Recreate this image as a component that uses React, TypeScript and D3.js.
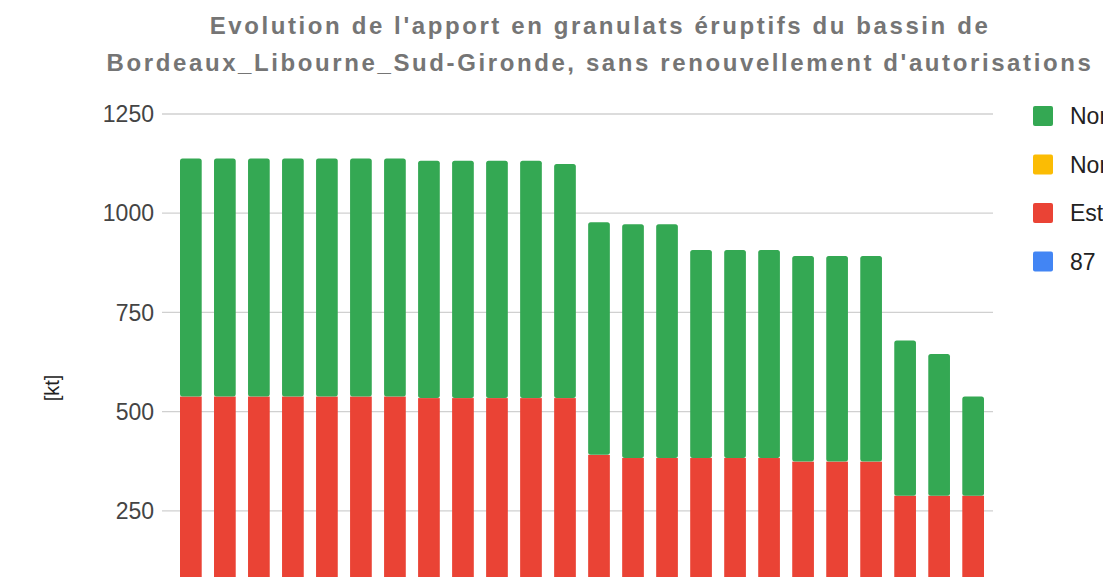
import { useEffect, useRef } from "react";
import * as d3 from "d3";

const years = [
  "2019", "2020", "2021", "2022", "2023", "2024", "2025", "2026",
  "2027", "2028", "2029", "2030", "2031", "2032", "2033", "2034",
  "2035", "2036", "2037", "2038", "2039", "2040", "2041", "2042",
];

// stacked from bottom to top: blue, red, orange, green
const haute_vienne = [0, 0, 0, 0, 0, 0, 0, 0, 0, 0, 0, 0, 0, 0, 0, 0, 0, 0, 0, 0, 0, 0, 0, 0];
const est_dordogne = [538, 538, 538, 538, 538, 538, 538, 534, 534, 534, 534, 534, 391, 383, 383, 383, 383, 383, 374, 374, 374, 288, 288, 288];
const nord_vienne = [0, 0, 0, 0, 0, 0, 0, 0, 0, 0, 0, 0, 0, 0, 0, 0, 0, 0, 0, 0, 0, 0, 0, 0];
const nord_deux_sevres = [600, 600, 600, 600, 600, 600, 600, 598, 598, 598, 598, 590, 586, 589, 589, 524, 524, 524, 518, 518, 518, 391, 357, 250];

const series = [
  { key: "hv", label: "87 Haute-Vienne", color: "#4285f4", values: haute_vienne },
  { key: "ed", label: "Est Dordogne", color: "#ea4335", values: est_dordogne },
  { key: "nv", label: "Nord Vienne", color: "#fbbc04", values: nord_vienne },
  { key: "nd", label: "Nord Deux-Sèvres", color: "#34a853", values: nord_deux_sevres },
];
const legendOrder = ["nd", "nv", "ed", "hv"];
const yTicks = [0, 250, 500, 750, 1000, 1250];

const width = 1103;
const height = 577;

const App = () => {
  const svgRef = useRef<SVGSVGElement>(null);

  useEffect(() => {
    if (!svgRef.current) return;
    const svg = d3.select(svgRef.current);
    svg.selectAll("*").remove();

    const x = d3
      .scaleBand<string>()
      .domain(years)
      .range([163, 1001])
      .paddingInner(0.362)
      .paddingOuter(0.5);
    const y = d3.scaleLinear().domain([0, 1250]).range([610, 114]);

    const font = "Arial, 'Liberation Sans', sans-serif";

    // gridlines
    svg
      .append("g")
      .selectAll("line")
      .data(yTicks)
      .join("line")
      .attr("x1", 162)
      .attr("x2", 993)
      .attr("y1", (d) => y(d))
      .attr("y2", (d) => y(d))
      .attr("stroke", "#d0d0d0")
      .attr("stroke-width", 1.3);

    // tick labels (0 lies below the visible area)
    svg
      .append("g")
      .selectAll("text")
      .data(yTicks.filter((t) => y(t) < height - 12))
      .join("text")
      .attr("x", 154)
      .attr("y", (d) => y(d))
      .attr("dy", "0.36em")
      .attr("text-anchor", "end")
      .attr("fill", "#444")
      .style("font-family", font)
      .style("font-size", "23px")
      .text((d) => `${d}`);

    // y axis title
    svg
      .append("text")
      .attr("transform", `translate(59, 388) rotate(-90)`)
      .attr("text-anchor", "middle")
      .attr("fill", "#222")
      .style("font-family", font)
      .style("font-size", "20px")
      .text("[kt]");

    // stacks
    const rows = years.map((yr, i) => {
      const r: Record<string, number | string> = { year: yr };
      series.forEach((s) => (r[s.key] = s.values[i]));
      return r;
    });
    const stack = d3.stack<Record<string, number | string>>().keys(series.map((s) => s.key));
    const layers = stack(rows as any);

    layers.forEach((layer, li) => {
      const s = series[li];
      svg
        .append("g")
        .selectAll("rect")
        .data(layer.filter((d) => d[1] - d[0] > 0))
        .join("rect")
        .attr("x", (d) => x(d.data.year as string)!)
        .attr("width", x.bandwidth())
        .attr("y", (d) => y(d[1]))
        .attr("height", (d) => y(d[0]) - y(d[1]))
        .attr("rx", li === layers.length - 1 ? 2.5 : 0)
        .attr("fill", s.color);
    });

    // legend
    const leg = svg
      .append("g")
      .selectAll("g")
      .data(legendOrder.map((k) => series.find((s) => s.key === k)!))
      .join("g")
      .attr("transform", (_d, i) => `translate(1033, ${116 + i * 48.5})`);
    leg
      .append("rect")
      .attr("x", 0)
      .attr("y", -10)
      .attr("width", 20)
      .attr("height", 20)
      .attr("rx", 2)
      .attr("fill", (d) => d.color);
    leg
      .append("text")
      .attr("x", 37)
      .attr("dy", "0.36em")
      .attr("fill", "#222")
      .style("font-family", font)
      .style("font-size", "23px")
      .text((d) => d.label);

    // title
    const title = svg
      .append("text")
      .attr("text-anchor", "middle")
      .attr("fill", "#757575")
      .style("font-family", font)
      .style("font-size", "24px")
      .style("font-weight", "bold")
      .style("letter-spacing", "2.6px");
    title.append("tspan").attr("x", 600).attr("y", 34).text("Evolution de l'apport en granulats éruptifs du bassin de");
    title
      .append("tspan")
      .attr("x", 600)
      .attr("y", 71)
      .text("Bordeaux_Libourne_Sud-Gironde, sans renouvellement d'autorisations");
  }, []);

  return (
    <svg
      ref={svgRef}
      width={width}
      height={height}
      style={{ position: "absolute", left: 0, top: 0, background: "#fff", overflow: "hidden" }}
    />
  );
};

export default App;
